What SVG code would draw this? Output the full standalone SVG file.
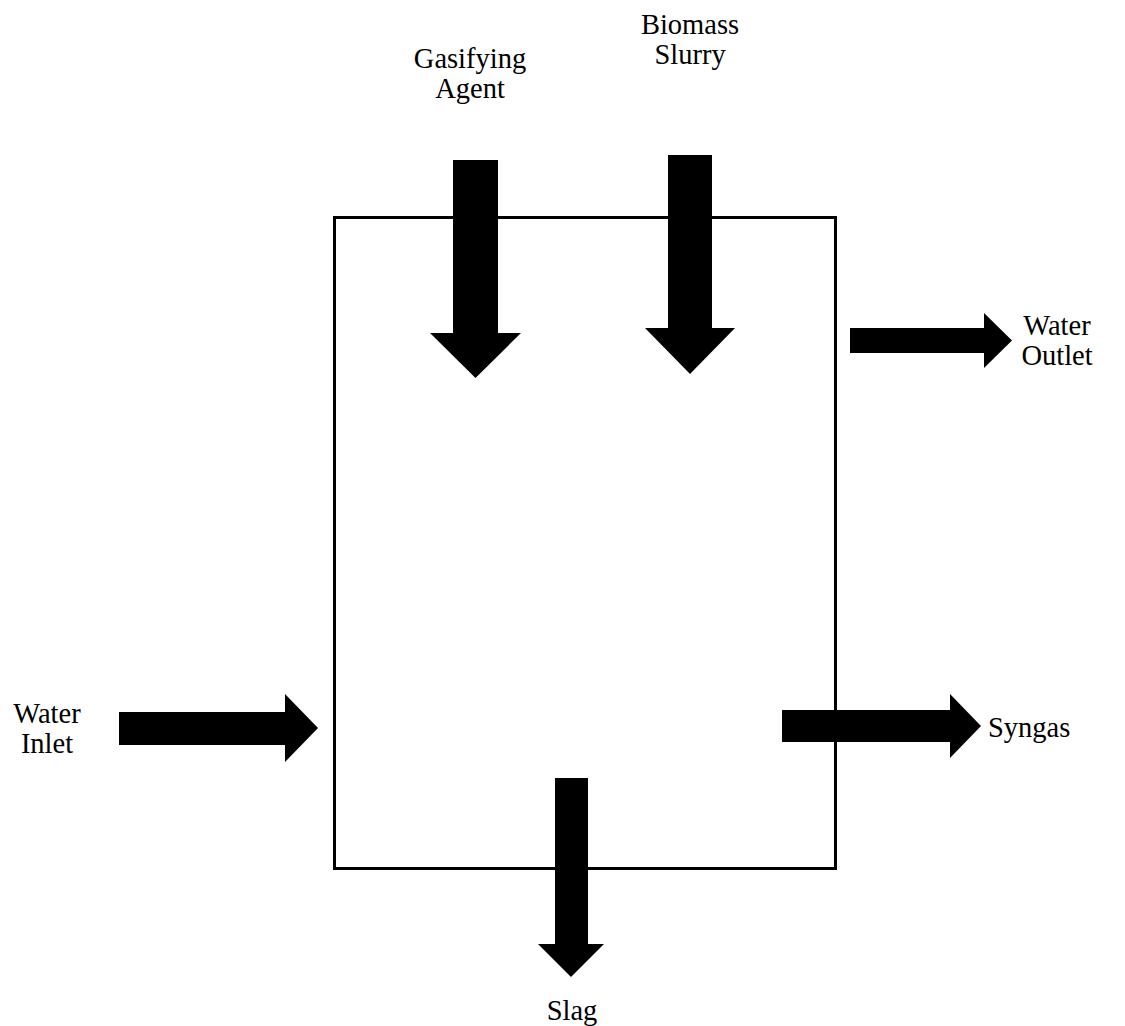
<svg xmlns="http://www.w3.org/2000/svg" width="1125" height="1026" viewBox="0 0 1125 1026">
<style>
.arr{fill:#000;stroke:none;}
.vessel{fill:none;stroke:#000;stroke-width:3;}
</style>
<rect width="1125" height="1026" fill="#fff"/>
<g id="gasifier">
<rect class="vessel" x="334.5" y="217.5" width="501" height="651"/>
</g>
<g id="connectors">
<polygon id="arrow-gasifying-agent" class="arr" points="453,160 498,160 498,333 521,333 475.5,378 430,333 453,333"/>
<polygon id="arrow-biomass-slurry" class="arr" points="668,155 712,155 712,328 735,328 690,374 645,328 668,328"/>
<polygon id="arrow-water-outlet" class="arr" points="850,328 984,328 984,313 1012,340.5 984,368 984,353 850,353"/>
<polygon id="arrow-water-inlet" class="arr" points="119,712 285,712 285,694 318,728 285,762 285,745 119,745"/>
<polygon id="arrow-syngas" class="arr" points="782,710 950,710 950,694 981,726 950,758 950,742 782,742"/>
<polygon id="arrow-slag" class="arr" points="555,778 588,778 588,944 604,944 571,977 538,944 555,944"/>
</g>
<g font-family="Liberation Serif, DejaVu Serif, serif" font-size="28.5" fill="#000">
<g id="label-gasifying-agent">
<text x="470" y="68" text-anchor="middle">Gasifying</text>
<text x="470" y="98" text-anchor="middle">Agent</text>
</g>
<g id="label-biomass-slurry">
<text x="690" y="34" text-anchor="middle">Biomass</text>
<text x="690" y="64" text-anchor="middle">Slurry</text>
</g>
<g id="label-water-outlet">
<text x="1057" y="335" text-anchor="middle">Water</text>
<text x="1057" y="365" text-anchor="middle">Outlet</text>
</g>
<g id="label-water-inlet">
<text x="47" y="723" text-anchor="middle">Water</text>
<text x="47" y="753" text-anchor="middle">Inlet</text>
</g>
<g id="label-syngas">
<text x="988" y="737">Syngas</text>
</g>
<g id="label-slag">
<text x="572" y="1020" text-anchor="middle">Slag</text>
</g>
</g>
</svg>
